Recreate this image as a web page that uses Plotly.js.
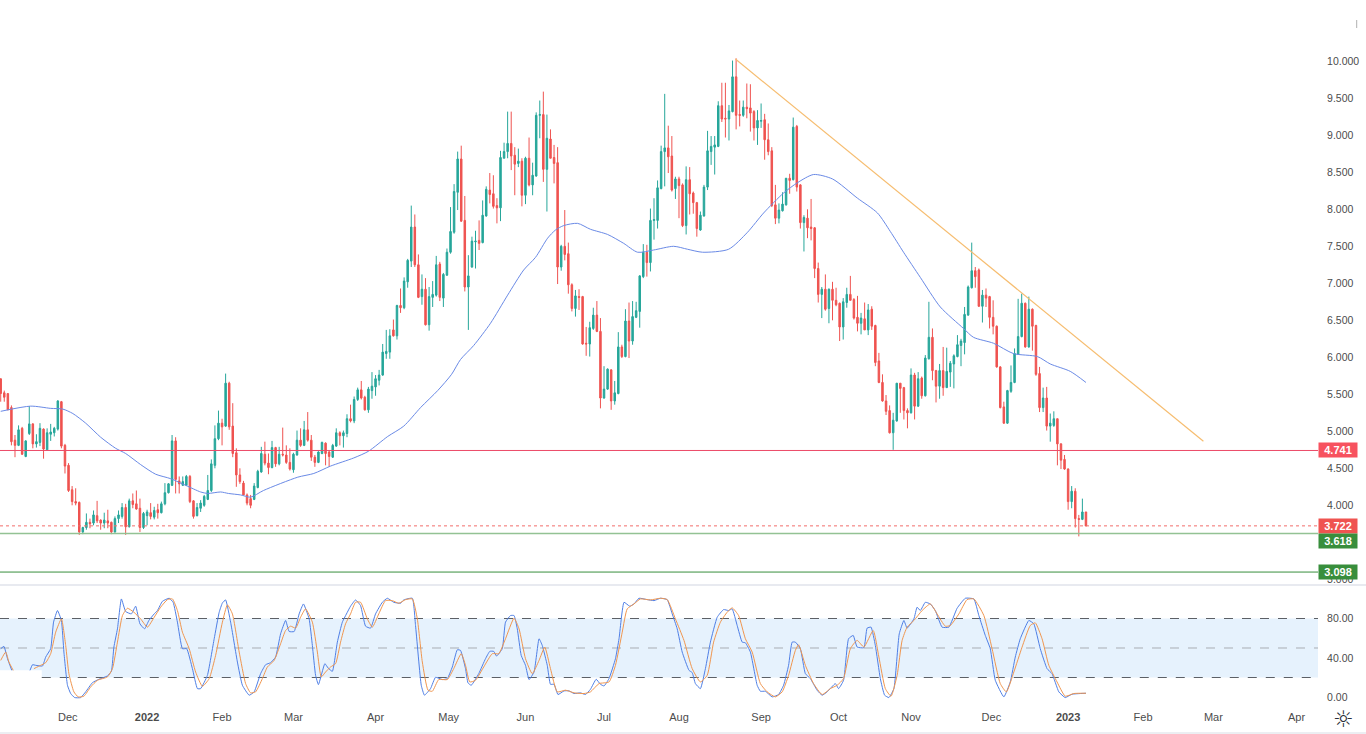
<!DOCTYPE html>
<html><head><meta charset="utf-8">
<script src="https://cdn.plot.ly/plotly-3.0.1.min.js"></script>
<style>html,body{margin:0;padding:0;background:#fff;overflow:hidden}#c{width:1366px;height:734px}</style>
</head><body><div id="c"></div>
<script>
const open_=[5.71,5.52,5.51,5.32,4.88,4.81,5.04,4.66,4.97,5.10,4.83,4.85,5.03,4.75,4.96,4.98,5.03,5.40,4.81,4.54,4.21,4.05,4.04,3.64,3.70,3.77,3.76,3.86,3.80,3.76,3.79,3.77,3.64,3.82,3.85,3.97,3.71,4.06,4.02,3.96,3.70,3.86,3.90,3.84,3.94,3.90,4.02,4.17,4.27,4.87,4.33,4.27,4.27,4.39,4.06,3.86,3.96,4.00,4.08,4.20,4.54,4.90,5.11,5.07,5.65,5.07,4.71,4.41,
4.30,4.14,4.09,4.08,4.24,4.45,4.69,4.57,4.51,4.78,4.56,4.69,4.68,4.58,4.48,4.68,4.88,4.81,5.02,4.88,4.65,4.58,4.70,4.84,4.72,4.65,4.80,4.98,4.94,4.97,5.17,5.14,5.43,5.56,5.46,5.29,5.55,5.60,5.69,5.76,6.05,6.07,6.37,6.29,6.70,6.67,7.02,7.30,7.76,7.25,6.82,6.92,6.44,6.81,6.84,7.26,
6.80,7.11,7.42,7.69,8.23,8.68,7.85,6.95,7.22,7.56,7.58,7.55,7.91,8.26,8.21,8.05,8.02,8.69,8.78,8.89,8.73,8.62,8.65,8.19,8.69,8.33,8.45,9.27,9.28,8.54,8.95,8.70,8.63,7.22,7.50,7.40,6.98,6.66,6.82,6.82,6.19,6.18,6.39,6.57,6.35,5.45,5.57,5.83,5.41,5.51,6.14,6.01,6.49,6.22,6.54,6.62,7.09,7.42,7.28,7.85,7.85,8.28,8.78,8.83,8.72,8.28,8.41,
8.33,7.78,8.40,8.22,8.09,7.72,7.91,8.30,8.78,8.84,8.85,9.40,9.23,9.22,9.32,9.79,9.28,9.27,9.38,9.37,9.32,9.10,9.19,9.21,8.94,8.79,8.06,7.88,7.98,8.06,8.42,8.40,9.12,8.33,7.82,7.88,7.76,7.75,7.20,6.85,6.92,6.66,6.92,6.77,6.73,6.41,6.74,6.85,6.78,6.54,
6.46,6.52,6.37,6.65,6.43,5.95,5.66,5.41,5.28,4.98,5.14,5.65,5.59,5.28,5.25,5.76,5.34,5.72,5.48,5.98,6.27,5.82,5.61,5.82,5.59,5.80,5.91,6.01,6.16,6.20,6.57,6.94,7.17,7.18,6.69,6.84,6.82,6.54,6.42,5.87,5.33,5.11,5.54,5.66,6.04,6.28,6.73,6.14,6.65,6.43,5.78,5.32,5.45,5.07,5.08,5.17,4.83,4.62,4.49,4.05,4.19,3.82,3.81,3.91];
const high=[5.71,5.55,5.51,5.35,4.95,5.08,5.06,4.88,5.34,5.11,4.96,5.11,5.04,5.04,5.10,5.06,5.42,5.41,4.83,4.57,4.26,4.23,4.05,3.71,3.89,3.82,3.93,4.06,3.81,3.90,3.94,3.78,3.85,3.93,4.03,4.02,4.09,4.16,4.20,4.09,3.91,3.94,4.03,3.98,4.02,4.05,4.30,4.30,4.95,4.92,4.39,4.39,4.41,4.41,4.07,4.03,4.07,4.14,4.41,4.62,5.08,5.28,5.17,5.78,5.67,5.38,4.77,4.50,
4.33,4.16,4.14,4.30,4.48,4.79,4.86,4.70,4.87,4.79,4.79,5.05,4.81,4.77,4.71,5.01,5.04,5.14,5.26,4.95,4.68,4.73,4.86,4.85,4.74,4.83,5.04,5.00,5.01,5.23,5.36,5.47,5.59,5.68,5.48,5.60,5.80,5.76,5.83,6.18,6.37,6.38,6.51,6.71,6.93,7.08,7.33,8.05,7.93,7.39,7.12,7.07,6.95,7.03,7.37,7.29,
7.14,7.47,8.03,8.34,8.78,8.86,8.18,7.38,7.63,7.71,7.85,8.12,8.31,8.49,8.46,8.15,8.79,8.90,9.32,9.32,8.84,8.82,8.69,8.71,8.97,8.63,9.31,9.47,9.59,9.28,9.08,8.87,8.84,7.52,7.99,7.55,7.00,6.91,6.92,6.83,6.41,6.48,6.67,6.76,6.53,5.88,5.85,5.84,5.68,6.34,6.17,6.65,6.74,6.76,6.75,7.11,7.53,7.52,8.01,8.15,8.39,8.86,9.56,9.13,8.99,8.44,8.44,
8.35,8.58,8.57,8.24,8.10,7.97,8.33,9.06,8.99,8.99,9.46,9.71,9.71,9.41,10.01,10.04,9.47,9.47,9.70,9.69,9.34,9.34,9.43,9.29,9.16,8.84,8.33,8.08,8.23,8.42,8.48,9.24,9.14,8.34,7.92,8.00,8.14,7.76,7.28,6.95,7.12,6.93,7.02,6.94,6.74,6.80,6.94,7.10,6.80,6.83,
6.60,6.74,6.72,6.69,6.44,6.06,5.77,5.49,5.35,5.25,5.65,5.65,5.60,5.31,5.85,5.79,5.80,5.74,6.03,6.75,6.39,5.83,5.91,6.14,6.13,5.95,6.04,6.30,6.25,6.68,6.97,7.55,7.22,7.20,6.91,6.93,6.83,6.77,6.43,5.88,5.40,5.56,5.89,6.12,6.79,6.86,6.74,6.82,6.66,6.44,5.87,5.59,5.60,5.24,5.27,5.17,4.84,4.68,4.50,4.26,4.23,3.87,4.09,3.91];
const low=[5.40,5.40,5.29,4.81,4.65,4.80,4.68,4.65,4.95,4.77,4.78,4.80,4.63,4.75,4.87,4.93,5.01,4.77,4.43,4.18,4.00,4.00,3.60,3.61,3.67,3.69,3.73,3.76,3.67,3.69,3.69,3.61,3.63,3.76,3.82,3.60,3.70,3.96,3.94,3.64,3.68,3.73,3.81,3.81,3.82,3.89,4.00,4.16,4.26,4.16,4.16,4.26,4.26,4.03,3.82,3.85,3.91,3.98,4.07,4.18,4.50,4.88,4.81,5.06,5.02,4.65,4.25,4.29,
4.14,4.00,3.96,4.07,4.23,4.44,4.54,4.42,4.50,4.52,4.54,4.66,4.56,4.47,4.44,4.67,4.79,4.80,4.86,4.60,4.52,4.57,4.69,4.54,4.52,4.64,4.79,4.81,4.78,4.92,5.12,5.11,5.41,5.43,5.28,5.25,5.44,5.48,5.62,5.75,5.98,5.98,6.28,6.24,6.60,6.65,6.94,7.22,7.22,6.80,6.71,6.43,6.36,6.68,6.82,6.76,
6.68,7.10,7.40,7.67,7.99,7.83,6.89,6.37,7.21,7.20,7.45,7.54,7.90,8.08,8.01,7.81,7.84,8.69,8.69,8.53,8.19,8.57,8.04,8.07,8.31,8.19,8.44,8.96,8.37,7.97,8.69,8.35,6.99,7.17,7.31,6.86,6.62,6.55,6.64,6.17,6.02,6.01,6.37,6.34,5.31,5.44,5.56,5.29,5.36,5.50,5.99,6.00,5.99,6.17,6.53,6.40,7.07,7.09,7.16,7.59,7.74,8.27,8.31,8.49,8.24,8.14,7.88,
7.76,7.66,7.93,7.94,7.63,7.71,7.90,8.26,8.60,8.47,8.84,9.18,8.97,8.93,9.31,9.08,9.12,9.25,9.23,9.05,8.93,8.87,9.10,8.67,8.73,8.03,7.80,7.81,7.97,8.05,8.21,8.39,8.24,7.74,7.43,7.61,7.58,7.07,6.74,6.53,6.63,6.46,6.50,6.69,6.22,6.24,6.67,6.77,6.51,6.35,
6.31,6.37,6.30,6.37,5.88,5.65,5.40,5.22,4.97,4.75,5.13,5.25,5.16,5.04,5.24,5.16,5.33,5.44,5.47,5.97,5.69,5.39,5.44,5.48,5.59,5.60,5.58,6.00,5.88,6.04,6.56,6.93,6.94,6.68,6.47,6.68,6.39,6.31,5.86,5.31,5.10,5.10,5.52,5.65,6.04,6.27,6.13,6.13,6.09,5.75,5.26,5.26,5.01,4.86,5.06,4.54,4.49,4.48,3.94,3.96,3.70,3.58,3.80,3.72];
const close_=[5.51,5.46,5.29,4.86,4.81,5.02,4.69,4.87,5.10,4.83,4.86,5.04,4.76,4.98,4.99,5.04,5.41,4.80,4.53,4.20,4.05,4.03,3.64,3.70,3.77,3.75,3.87,3.79,3.76,3.80,3.76,3.64,3.82,3.87,3.97,3.71,4.06,4.01,3.95,3.70,3.89,3.91,3.85,3.93,3.90,4.02,4.17,4.29,4.87,4.35,4.29,4.32,4.39,4.05,3.85,3.97,4.03,4.12,4.20,4.56,4.90,5.11,5.06,5.65,5.06,4.70,4.41,4.32,
4.14,4.03,4.00,4.26,4.46,4.70,4.57,4.51,4.78,4.56,4.69,4.68,4.58,4.49,4.69,4.88,4.81,5.02,4.88,4.65,4.58,4.72,4.85,4.70,4.66,4.81,4.98,4.94,4.98,5.17,5.14,5.43,5.56,5.45,5.29,5.57,5.61,5.71,5.76,6.07,6.08,6.29,6.29,6.70,6.67,7.03,7.31,7.76,7.25,6.81,6.92,6.44,6.82,6.85,7.25,6.81,
7.12,7.42,7.70,8.24,8.68,7.84,6.95,7.10,7.57,7.57,7.54,7.92,8.27,8.20,8.04,8.02,8.70,8.78,8.89,8.72,8.61,8.65,8.19,8.69,8.33,8.46,9.27,9.28,8.54,8.96,8.69,8.62,7.22,7.50,7.39,6.98,6.66,6.83,6.81,6.18,6.18,6.40,6.57,6.35,5.45,5.57,5.84,5.41,5.52,6.14,6.01,6.49,6.22,6.55,6.63,7.10,7.42,7.28,7.85,7.86,8.29,8.78,8.83,8.71,8.26,8.41,8.32,
7.78,8.40,8.21,8.09,7.74,7.92,8.30,8.79,8.85,8.87,9.40,9.22,9.22,9.33,9.79,9.27,9.27,9.38,9.36,9.30,9.10,9.20,9.20,8.94,8.78,8.05,7.88,7.99,8.07,8.42,8.39,9.11,8.30,7.82,7.89,7.75,7.74,7.20,6.85,6.92,6.65,6.92,6.77,6.71,6.41,6.75,6.85,6.77,6.53,6.46,
6.53,6.37,6.64,6.42,5.93,5.66,5.41,5.27,4.98,5.15,5.65,5.58,5.28,5.25,5.76,5.34,5.71,5.48,5.99,6.27,5.82,5.61,5.82,5.59,5.81,5.92,6.02,6.17,6.22,6.58,6.95,7.17,7.09,6.69,6.84,6.80,6.54,6.42,5.87,5.32,5.11,5.55,5.66,6.05,6.28,6.73,6.14,6.65,6.42,5.77,5.32,5.45,5.07,5.11,5.17,4.83,4.61,4.49,4.05,4.19,3.82,3.81,3.91,3.72];

const maBar=[0,8.4,14,17.4,20.2,23.8,28,32.2,35,39.2,43.4,47.6,51.8,56,58,61.6,63.8,67.2,70,73.6,83.2,87.7,92.4,98.9,103,108.4,112.9,117.6,122.4,126.3,128.8,132.5,137.2,142,146.5,149.8,153.2,155.4,157.7,161.6,165.2,170,174.5,178.4,182.9,188.5,192.4,196.6,203.9,209.2,213.7,219.3,223.2,227.7,233,240,245.6,249.2,252.9,257.6,263.2,269.7,272.5,278.1,283.7,290.4,294,299.6,304];
const maVal=[5.27,5.34,5.31,5.30,5.24,5.11,4.92,4.77,4.70,4.55,4.42,4.36,4.27,4.18,4.16,4.18,4.16,4.14,4.11,4.20,4.38,4.43,4.53,4.64,4.73,4.93,5.07,5.32,5.55,5.77,5.97,6.16,6.46,6.84,7.18,7.35,7.61,7.72,7.78,7.81,7.73,7.66,7.54,7.42,7.45,7.50,7.46,7.42,7.46,7.69,7.95,8.22,8.36,8.47,8.41,8.15,7.95,7.70,7.42,7.08,6.68,6.39,6.27,6.19,6.05,6.01,5.91,5.81,5.66];

const kBar=[0,0.9,1.9,3.1,null,8.2,8.9,9.8,11.7,12.6,14,14.8,15.9,17,17.7,18.7,19.6,20.7,22.4,23.8,25.7,27.5,29.9,31,31.7,32.7,33.8,35,36.6,37.8,39,40.3,41.5,43,43.9,45.3,47.2,48.3,49.5,50.9,52.1,53.7,55.1,56,57.9,59.8,61.2,62.1,63,64.4,66.3,67.7,69.6,71,72.8,74.2,75.6,77,78.4,79.8,80.8,82.2,83.6,84.8,86.4,87.3,88.2,89,90.8,91.7,92.9,94.3,95.7,97.1,98,
99.4,100.8,102.2,103.6,105,106.9,108.3,110.1,112,112.9,115.3,116.2,117.8,118.7,120.4,121.8,123.7,125.1,126.5,127.9,128.8,130.2,130.9,131.8,133.9,135.8,137,138.1,138.9,140.5,141.4,142.8,143.8,144.7,145.8,147,148,149.4,150.8,151.7,153.1,154,155,156.1,157.8,159.2,160.6,162.4,163.8,165.2,166.8,168,169,170.4,172.2,173.2,174.6,176.2,177.4,178.8,181.1,183,184.8,186.7,188.1,189.5,190.9,192.8,193.7,194.6,196,
197.4,198.8,200.7,202.5,203.9,204.9,206.3,207.7,208.6,210,211.9,212.8,214.2,216.1,217.9,219.3,220.7,221.7,222.6,224,225.4,226.8,228.7,230.1,231.5,233.8,234.7,236.1,237.5,238.8,239.9,241.8,242.7,243.8,245,246.4,247.6,248.8,250.2,251.7,253,253.9,255.8,256.7,257.6,259,260.4,261.8,263.7,265.6,267.9,270.2,272.6,274,275.8,277.2,278.6,281,282.8,284.2,285.6,288,289.4,291.2,293.1,294.5,296.4,298.2,300.1,302.4,304];
const kVal=[49.3,51.6,39.1,27.3,null,27.3,33,32.4,31.7,40.8,49.3,76.3,88.1,78,45.9,12.1,3.7,-0.4,-0.4,5.4,14.8,18.2,21.6,26.3,50.9,69.5,99.9,87.1,84.7,92.5,74.6,69.5,78,84.7,88.1,97.5,100.6,96.5,76.3,49.3,49.3,29,8.7,8.7,22.2,59.4,86.4,95.8,98.9,76.3,35.7,12.1,2,5.4,23.9,33,35.1,40.8,64.4,78,66.8,66.8,84.7,94.8,79.6,52.6,22.2,12.8,34.1,29.7,26.3,56,76.3,86.4,92.5,
98.9,93.1,72.2,70.2,84.7,96.5,100.6,96.5,95.5,98.9,100.6,72.9,12.1,2,8.7,20.2,17.9,18.9,30.7,48.2,47.6,29,14.5,12.1,23.9,39.1,46.6,46.6,41.8,49.3,76.3,83,83,69.5,42.5,32.4,17.9,25.6,59.4,52.6,32.4,13.1,13.1,2.7,6.4,6.4,3.7,4.4,2.7,8,18.2,13.1,11.4,18.9,39.1,59.4,96.5,92.5,94.8,100.6,99.2,98.2,100.6,99.2,84.7,69.5,45.9,27.3,25,13.8,8.7,
29,56,81.3,89.1,88.1,89.8,72.9,56,55.3,45.9,12.1,6,6,0.3,2.7,12.1,32.4,56,56,49.3,23.9,18.9,7,2,5.4,13.8,8.7,17.2,59.4,62.8,51,50.3,70.2,71.2,52.6,18.9,2,-0.4,8.7,64.4,78,70.2,79.6,91.5,88.1,96.5,94.8,88.1,71.2,71.2,90.4,100.6,99.9,83,62.8,49.3,17.2,0.3,15.5,40.8,59.4,78,74.6,49.3,29,23.9,5.4,-0.4,3,3.7,4];

const dBar=[0,1.4,2.3,3.5,null,9.3,11.2,12.6,14,15.4,17,18.2,19.1,20.5,21.7,23.3,25.2,27.1,29.9,31.3,32.7,34.1,35.5,37.3,39.2,41.1,43,44.8,46.7,48.1,49.5,50.9,52.8,54.6,56.5,58.4,60.2,62.1,63.5,64.9,66.8,68.6,70,71.4,73.3,74.7,76.6,78.4,79.8,81.2,82.6,84,85.4,87.3,88.7,89.8,91,92.4,93.8,95.2,96.6,98,
99.4,100.8,102.7,104.1,105.9,107.8,109.7,111.5,113.4,115.3,116.7,118.1,119.7,120.9,122.7,125.1,126.9,129,130.2,131.4,133,135.3,137.7,139.5,141.4,143.8,145.2,147,148.9,150.8,152.4,154,155.9,158.2,160.6,163.4,165.2,167.6,170.4,172.2,174.1,175.5,177.4,179.2,182,184.8,186.7,189,191.4,193.7,196,
197.9,199.7,201.6,203.5,204.9,206.7,208.6,210.5,212.8,214.7,217,218.9,220.7,222.6,223.5,225.4,227.7,230.1,232.4,234.3,236.1,238,239.9,241.8,244.4,246,247.8,249.4,251.1,252.5,253.9,255.8,258.1,260.4,262.3,264.6,266,268.4,270.7,272.6,275.4,277.7,280,281.7,283.8,286.1,288.4,289.8,291.7,293.6,295.9,298.2,300.6,304];
const dVal=[37.4,45.9,35.8,27.3,null,29,32.4,35.1,44.2,66.1,79.6,52.6,23.9,5.4,0.3,1,10.4,17.2,20.6,29,56,83,90.4,86.4,79.6,71.2,81.3,91.5,99.2,99.9,88.1,66.1,49.3,25.6,11.1,18.9,42.5,76.3,93.8,84.7,45.9,13.8,4.4,5.4,18.9,30.7,37.4,54.3,67.8,72.2,70.2,81.3,89.8,76.3,45.9,20.6,25.6,30.7,34.1,56,74.6,84.7,
96.5,96.5,79.6,71.2,84.7,98.2,98.2,95.5,99.2,99.9,79.6,35.8,7.1,6,17.9,17.9,29,44.2,32.4,15.5,17.2,30.7,44.2,44.2,59.4,80.3,69.5,39.1,23.9,37.4,50.9,29,5.4,7.1,4.4,3.7,5.4,13.8,15.5,32.4,66.1,89.8,94.8,99.9,98.9,100.6,99.2,79.6,57.7,29,15.5,
22.2,56,76.3,86.4,90.8,83,59.4,45.9,13.8,5.4,0.3,5.4,22.2,47.6,53.3,32.4,13.8,2.7,8.7,12.1,18.9,49.3,57.7,51,67.8,40.8,8.7,1,22.2,57.7,71.2,78,88.1,94.8,84.7,72.2,72.9,84.7,99.2,99.9,83,49.3,13.8,5.4,25.6,50.9,72.9,75.6,59.4,32.4,15.5,1,3.7,4];

const trendBar=[205.8,336.9];
const trendVal=[10.03,4.865];
const levelResistance=4.741, levelLast=3.722, levelSupport1=3.618, levelSupport2=3.098;
const monthBars=[18.8,41,62,82,105,125.5,147,169,190,213,234.7,255,277.5,299,320,339.7,363];
const monthLabels=['Dec','<b>2022</b>','Feb','Mar','Apr','May','Jun','Jul','Aug','Sep','Oct','Nov','Dec','<b>2023</b>','Feb','Mar','Apr'];
const priceTicks=[3,4,4.5,5,5.5,6,6.5,7,7.5,8,8.5,9,9.5,10];
const oscTicks=[0,40,80];
const bars=open_.map((_,i)=>i);

const UP='#26a69a',DOWN='#ef5350',W=1366,H=734,PW=1318,PH=710;
const FONT='"Liberation Sans",Arial,sans-serif',TXT='#4c4c4c';
const px=v=>v/PW, py=v=>1-v/PH;
const P10=61.3,PSCALE=74,O0=697.17,OSCALE=0.9833;

const traces=[
 {type:'candlestick',x:bars,open:open_,high:high,low:low,close:close_,xaxis:'x',yaxis:'y',whiskerwidth:0,
  increasing:{line:{color:UP,width:1},fillcolor:UP},decreasing:{line:{color:DOWN,width:1},fillcolor:DOWN},hoverinfo:'skip'},
 {type:'scatter',mode:'lines',x:maBar,y:maVal,xaxis:'x',yaxis:'y',line:{color:'#6a8ae6',width:1,shape:'spline',smoothing:0.7},hoverinfo:'skip'},
 {type:'scatter',mode:'lines',x:trendBar,y:trendVal,xaxis:'x',yaxis:'y',line:{color:'#f6bd70',width:1.2},hoverinfo:'skip'},
 {type:'scatter',mode:'lines',x:kBar,y:kVal,xaxis:'x',yaxis:'y2',line:{color:'#4f7fe6',width:1,shape:'spline',smoothing:0.4},hoverinfo:'skip'},
 {type:'scatter',mode:'lines',x:dBar,y:dVal,xaxis:'x',yaxis:'y2',line:{color:'#f0964f',width:1,shape:'spline',smoothing:0.5},hoverinfo:'skip'}
];
const hline=(y,yref,color,width,dash,layer,x0)=>({type:'line',xref:x0?'x':'paper',yref,x0:x0||0,x1:x0?369:1,y0:y,y1:y,layer:layer||'above',line:{color,width,dash:dash||'solid'}});
const shapes=[
 {type:'rect',xref:'paper',yref:'y2',x0:0,x1:1,y0:20,y1:80,fillcolor:'#e6f2fd',line:{width:0},layer:'below'},
 {type:'rect',xref:'x',yref:'y2',x0:-1,x1:11.5,y0:19,y1:27.4,fillcolor:'#ffffff',line:{width:0},layer:'below'},
 hline(80,'y2','#5c6066',1,'dash','below'),
 hline(50,'y2','#a9adb3',1,'dash','below'),
 hline(20,'y2','#5c6066',1,'dash','below',11.5),
 hline(levelResistance,'y','#ec4a67',1),
 hline(levelLast,'y','#f26d6b',1,'dot'),
 hline(levelSupport1,'y','#93c294',1.5),
 hline(levelSupport2,'y','#388e3c',1),
 {type:'line',xref:'paper',yref:'paper',x0:0,x1:W/PW,y0:py(585),y1:py(585),line:{color:'#e0e3eb',width:1.5}},
 {type:'line',xref:'paper',yref:'paper',x0:0,x1:W/PW,y0:py(733),y1:py(733),line:{color:'#eceef2',width:2}},
 {type:'line',xref:'paper',yref:'paper',x0:px(1356.7),x1:px(1356.7),y0:py(20),y1:py(28),line:{color:'#b0b0b0',width:1}}
];
const badge=(y,color,shift)=>({xref:'paper',yref:'y',x:px(1338),y:y,xanchor:'center',yanchor:'middle',yshift:shift||0,text:'<b>'+y.toFixed(3)+'</b>',showarrow:false,bgcolor:color,
 font:{family:FONT,size:11,color:'#fff'},width:38,height:14,borderpad:0,align:'center',valign:'middle'});
const axisFont={family:FONT,size:10.5,color:TXT};
const layout={
 width:W,height:H,margin:{l:0,r:W-PW,t:0,b:H-PH,pad:0},paper_bgcolor:'#fff',plot_bgcolor:'#fff',showlegend:false,boxgap:0.4,
 xaxis:{domain:[0,1],range:[-0.2,369],anchor:'y2',tickmode:'array',tickvals:monthBars,ticktext:monthLabels,showgrid:false,zeroline:false,showline:false,ticks:'',ticklabelstandoff:-1,tickfont:{family:FONT,size:11,color:TXT},tickangle:0,rangeslider:{visible:false},fixedrange:true},
 yaxis:{domain:[py(585),1],range:[10-(585-P10)/PSCALE,10+P10/PSCALE],side:'right',anchor:'x',tickmode:'array',tickvals:priceTicks,ticktext:priceTicks.map(v=>v.toFixed(3)),showgrid:false,zeroline:false,showline:false,ticks:'outside',ticklen:6,tickcolor:'rgba(0,0,0,0)',tickfont:axisFont,fixedrange:true},
 yaxis2:{domain:[0,py(586)],range:[(O0-710)/OSCALE,(O0-586)/OSCALE],side:'right',anchor:'x',tickmode:'array',tickvals:oscTicks,ticktext:oscTicks.map(v=>v.toFixed(2)),showgrid:false,zeroline:false,showline:false,ticks:'outside',ticklen:6,tickcolor:'rgba(0,0,0,0)',tickfont:axisFont,fixedrange:true},
 shapes:shapes,
 annotations:[badge(levelResistance,'#f7525f'),badge(levelLast,'#ef5350'),badge(levelSupport1,'#388e3c',-7.5),badge(levelSupport2,'#388e3c'),
  {xref:'paper',yref:'paper',x:px(1343),y:py(719),xanchor:'center',yanchor:'middle',text:'☼',showarrow:false,font:{family:'DejaVu Sans',size:23,color:'#2a2e39'}}]
};
Plotly.newPlot('c',traces,layout,{staticPlot:true,displayModeBar:false});
</script></body></html>
